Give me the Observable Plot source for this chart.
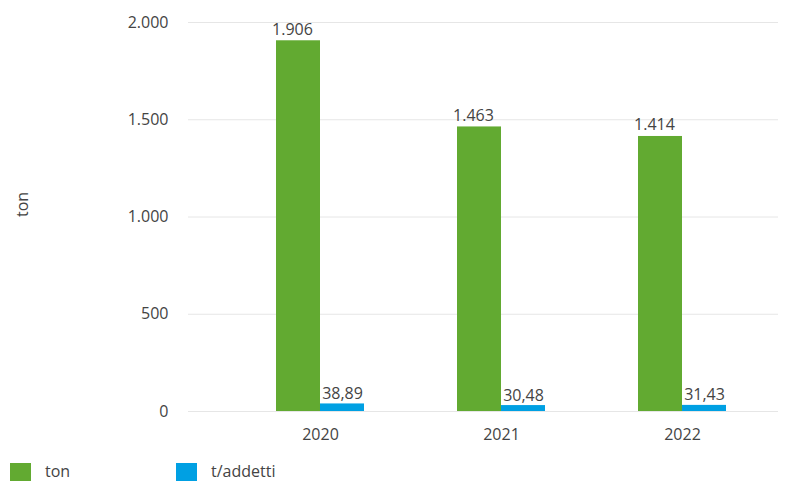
<!DOCTYPE html>
<html>
<head>
<meta charset="utf-8">
<script src="https://cdn.jsdelivr.net/npm/d3@7"></script>
<script src="https://cdn.jsdelivr.net/npm/@observablehq/plot@0.6"></script>
<style>
  html, body { margin: 0; padding: 0; background: #fff; }
  body { width: 788px; height: 481px; position: relative; font-family: "Open Sans", sans-serif; }
  #legend { position: absolute; left: 0; top: 462px; width: 788px; height: 18px; font-size: 16px; color: #444; }
  .item { position: absolute; top: 0; height: 18px; line-height: 18px; }
  .sw { position: absolute; top: 1px; width: 21px; height: 18px; }
</style>
</head>
<body>
<div id="chart"></div>
<div id="legend"></div>
<script>
const years = ["2020", "2021", "2022"];
const series = ["ton", "t/addetti"];
const tonValues = [1906, 1463, 1414];
const perEmployeeValues = [38.89, 30.48, 31.43];
const yTicks = [0, 500, 1000, 1500, 2000];
const colors = ["#62aa31", "#00a0e3"];

const itLocale = d3.formatLocale({decimal: ",", thousands: ".", grouping: [3], currency: ["€", ""]});
const fmtInt = itLocale.format(",d");
const fmt2 = itLocale.format(",.2f");

const tonRows = years.map((y, i) => ({year: y, value: tonValues[i], label: fmtInt(tonValues[i])}));
const perRows = years.map((y, i) => ({year: y, value: perEmployeeValues[i], label: fmt2(perEmployeeValues[i])}));

const chart = Plot.plot({
  width: 788,
  height: 456,
  marginLeft: 188,
  marginRight: 10,
  marginTop: 22,
  marginBottom: 45,
  style: {fontFamily: "Open Sans", fontSize: "16px", color: "#444", background: "white"},
  x: {domain: years, range: [228, 773], paddingInner: 0.516, paddingOuter: 0.258, label: null, tickSize: 0, tickPadding: 17},
  y: {domain: [0, 2000], ticks: yTicks, tickFormat: fmtInt, label: null, tickSize: 0, tickPadding: 20},
  marks: [
    Plot.ruleY(yTicks, {stroke: "#e6e6e6", strokeWidth: 1}),
    Plot.barY(tonRows, {x: "year", y: "value", fill: colors[0], insetRight: 44}),
    Plot.barY(perRows, {x: "year", y: "value", fill: colors[1], insetLeft: 44}),
    Plot.text(tonRows, {x: "year", y: "value", text: "label", dx: -28, dy: -6, lineAnchor: "bottom", fill: "#444", fontSize: 16}),
    Plot.text(perRows, {x: "year", y: "value", text: "label", dx: 22, dy: -5, lineAnchor: "bottom", fill: "#444", fontSize: 16}),
    Plot.text(["ton"], {frameAnchor: "left", dx: -166, rotate: -90, fill: "#444", fontSize: 16})
  ]
});
document.getElementById("chart").appendChild(chart);

const legend = document.getElementById("legend");
const legendX = [10, 176];
series.forEach((s, i) => {
  const sw = document.createElement("div");
  sw.className = "sw";
  sw.style.left = legendX[i] + "px";
  sw.style.background = colors[i];
  legend.appendChild(sw);
  const t = document.createElement("div");
  t.className = "item";
  t.style.left = (legendX[i] + 35) + "px";
  t.textContent = s;
  legend.appendChild(t);
});
</script>
</body>
</html>
